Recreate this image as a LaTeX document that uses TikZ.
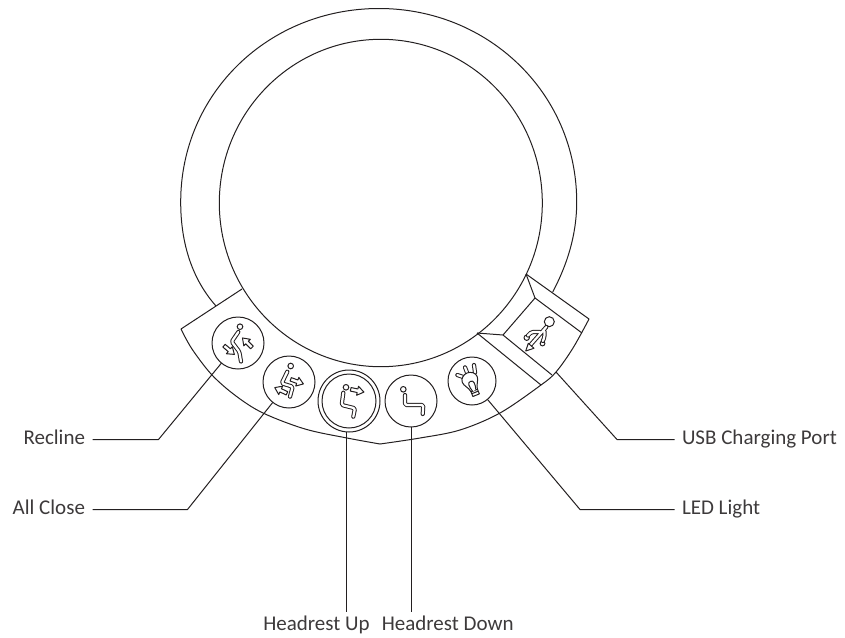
\documentclass[tikz,border=0pt]{standalone}
\usepackage{fontspec}
\setmainfont{Carlito}
\definecolor{ink}{HTML}{231F20}
\tikzset{
  x=1pt,y=-1pt,
  ln/.style={draw=ink,line width=1pt,line join=round},
  btn/.style={circle,draw=ink,line width=1pt,minimum size=52pt,inner sep=0pt,outer sep=0pt},
  lab/.style={font=\fontsize{21}{24}\selectfont,text=ink!88!white,inner xsep=7.5pt,inner ysep=0pt,outer sep=0pt},
  bodyout/.style={draw=ink,line width=4.2pt,line cap=round,line join=round,rounded corners=1.5pt},
  bodyin/.style={draw=white,line width=2.2pt,line cap=round,line join=round,rounded corners=1.5pt},
  ico/.style={draw=ink,line width=1pt,fill=white,line join=round}
}
\newcommand{\blockarrow}[3]{%
  \draw[ico,shift={(#1,#2)},rotate=#3] (0,-1.8)--(7,-1.8)--(7,-4.6)--(13.5,0)--(7,4.6)--(7,1.8)--(0,1.8)--cycle;}
\newcommand{\figpath}[1]{\draw[bodyout] #1; \draw[bodyin] #1;}
\begin{document}
\begin{tikzpicture}
\useasboundingbox (0,0) rectangle (845,637);
% housing
\draw[ln] (216,306) .. controls (193,280) and (180.7,245) .. (180.7,202)
  .. controls (180.7,93) and (269,8.5) .. (379,8.5)
  .. controls (488,8.5) and (576.7,93) .. (576.7,202)
  .. controls (576.7,235) and (567,265) .. (552.7,292);
\draw[ln] (380.8,203) ellipse[x radius=161.5,y radius=163.7];
\draw[ln] (242,289) -- (181,329)
  plot[smooth,tension=0.55] coordinates {(181,329) (192,349) (212,375) (236,396) (263,413) (305,429) (347,438) (380,444)};
\draw[ln] plot[smooth,tension=0.55] coordinates {(380,444) (420,438) (460,430) (500,413) (541,385) (556,372) (573,348) (589,319)} -- (526,274);
% USB recess
\draw[ln] (526,274) -- (535,298) -- (582,333);
\draw[ln] (535,298) -- (503,335) -- (477,333);
\draw[ln] (503,335) -- (552,375);
\draw[ln] (477,333) -- (541,385);
% buttons
\node[btn] (recline) at (238,343) {};
\node[btn] (allclose) at (289,382) {};
\node[btn,minimum size=62pt] (hup) at (349,401) {};
\node[btn,minimum size=54pt] (hupin) at (349,401) {};
\node[btn] (hdown) at (411,401) {};
\node[btn,minimum size=48pt] (led) at (472,381) {};
\coordinate (usbport) at (556,372);
% labels
\node[lab,anchor=base east] (lrecline) at (92.5,444) {Recline};
\node[lab,anchor=base east] (lallclose) at (92.5,514) {All Close};
\node[lab,anchor=base] (lhup) at (316.5,630.5) {Headrest Up};
\node[lab,anchor=base] (lhdown) at (447.7,630.5) {Headrest Down};
\node[lab,anchor=base west] (lled) at (674.5,514.3) {LED Light};
\node[lab,anchor=base west] (lusb) at (674.5,444) {USB Charging Port};
% elbows
\coordinate (e1) at (158.5,439.5);
\coordinate (e2) at (187.5,509.5);
\coordinate (e3) at (580,509.5);
\coordinate (e4) at (617,439.5);
\coordinate (e5) at (346.7,611.5);
\coordinate (e6) at (411,611.5);
% leaders
\draw[ln] (recline) -- (e1) -- (lrecline.east |- e1);
\draw[ln] (allclose) -- (e2) -- (lallclose.east |- e2);
\draw[ln] (led) -- (e3) -- (lled.west |- e3);
\draw[ln] (usbport) -- (e4) -- (lusb.west |- e4);
\draw[ln] (e5 |- hup.south) -- (e5);
\draw[ln] (e6 |- hdown.south) -- (e6);
% Recline icon
\draw[ico] (240,326.7) circle[radius=2.8pt];
\figpath{(238.3,332) -- (231.7,341.7) -- (239.3,351.7) -- (241,361.5)}
\blockarrow{224}{345.7}{-40}
\blockarrow{252}{347.5}{135}
% All Close icon
\draw[ico] (290.7,366) circle[radius=2.8pt];
\figpath{(287.3,371.7) -- (281.7,383.3) -- (292.7,386.7) -- (290,396.7)}
\blockarrow{290.7}{379.3}{-20}
\blockarrow{287}{393.3}{155}
% Headrest Up icon
\draw[ico] (346,387.3) circle[radius=2.8pt];
\figpath{(343.3,392.7) -- (341.7,405) -- (355,408.3) -- (353.3,416.7)}
\blockarrow{350.7}{389.3}{-12}
% Headrest Down icon
\draw[ico] (403.3,389.3) circle[radius=2.8pt];
\figpath{(405,395) -- (405,405) -- (423.3,405) -- (422.7,414)}
% LED icon
\figpath{(457.3,375) -- (464,377.3)}
\figpath{(465,367.3) -- (467.3,373.3)}
\figpath{(474,365) -- (475,372.7)}
\begin{scope}[shift={(472,385)},rotate=22]
  \draw[ico] (-3.5,5) -- (3.5,5) -- (3.5,11) -- (-3.5,11) -- cycle;
  \draw[ico] (-3.4,6) .. controls (-4,1) and (-8,-2) .. (-8,-6)
     .. controls (-8,-10) and (-4,-13) .. (0,-13)
     .. controls (4,-13) and (8,-10) .. (8,-6)
     .. controls (8,-2) and (4,1) .. (3.4,6) -- cycle;
  \draw[ico] (-1.8,6) .. controls (-3.5,0) and (-3.5,-4) .. (0,-4) .. controls (3.5,-4) and (3.5,0) .. (1.8,6);
  \draw[ln] (-3.5,8) -- (3.5,8);
\end{scope}
% USB icon
\draw[ico] (549.3,321.7) circle[radius=5pt];
\draw[ico] (526.7,337.7) circle[radius=2.7pt];
\draw[ico] (542.5,343.5) circle[radius=2.4pt];
\figpath{(546.3,327) -- (529.5,346) (540,332) -- (531.5,332) -- (528,335.5) (544.5,331.5) -- (544.5,337) -- (542.8,341)}
\draw[ico] (525.7,351) -- (534,348.3) -- (528.3,343.3) -- cycle;
\end{tikzpicture}
\end{document}
